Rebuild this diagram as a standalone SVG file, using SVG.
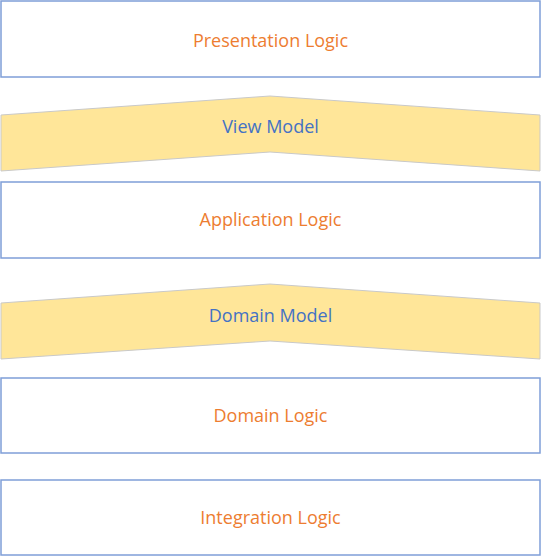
<svg xmlns="http://www.w3.org/2000/svg" width="541" height="557" viewBox="0 0 541 557">
<style>
.box{fill:#fff;stroke:#7F9ED8;stroke-width:1.5}
.chev{fill:#FFE699;stroke:#C9C9C9;stroke-width:1}
.lt{font-family:"Open Sans",sans-serif;font-size:18px;fill:#ED7D31;text-anchor:middle;dominant-baseline:central}
.mt{font-family:"Open Sans",sans-serif;font-size:18px;fill:#4472C4;text-anchor:middle;dominant-baseline:central}
</style>
<rect width="541" height="557" fill="#fff"/>
<g id="presentation"><rect class="box" x="1" y="1" width="539" height="76"/><text class="lt" x="270.5" y="40">Presentation Logic</text></g>
<g id="viewmodel"><polygon class="chev" points="1,115 270,96 540,115 540,171 270,152 1,171"/><text class="mt" x="270.5" y="126">View Model</text></g>
<g id="application"><rect class="box" x="1" y="182" width="539" height="76"/><text class="lt" x="270.5" y="219">Application Logic</text></g>
<g id="domainmodel"><polygon class="chev" points="1,303 270,284 540,303 540,359 270,341 1,359"/><text class="mt" x="270.5" y="315">Domain Model</text></g>
<g id="domainlogic"><rect class="box" x="1" y="378" width="539" height="75"/><text class="lt" x="270.5" y="415">Domain Logic</text></g>
<g id="integration"><rect class="box" x="1" y="480" width="539" height="75"/><text class="lt" x="270.5" y="517">Integration Logic</text></g>
<g id="connectors"/>
</svg>
